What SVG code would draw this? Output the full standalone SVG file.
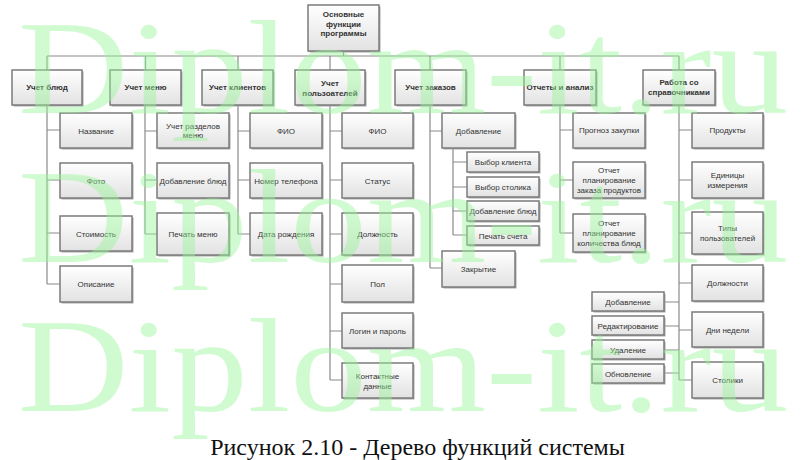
<svg xmlns="http://www.w3.org/2000/svg" width="802" height="460" viewBox="0 0 802 460">
<defs>
<linearGradient id="g" x1="0" y1="0" x2="0" y2="1">
<stop offset="0" stop-color="#ffffff"/>
<stop offset="1" stop-color="#e2e2e2"/>
</linearGradient>
<style>
.sh{fill:#a8a8a8}
.b{fill:url(#g);stroke:#7b7b7b;stroke-width:1.5}
.t{font-family:"Liberation Sans",Arial,sans-serif;font-size:8px;fill:#333333;text-anchor:middle}
.tb{font-weight:bold}
.c{stroke:#8a8a8a;stroke-width:1.2;fill:none}
.wm{font-family:"Liberation Serif","Times New Roman",serif;font-size:133px;fill:#99f599;opacity:0.45}
.cap{font-family:"Liberation Serif","Times New Roman",serif;font-size:24px;fill:#111111;text-anchor:middle}
</style>
</defs>
<rect width="802" height="460" fill="#ffffff"/>
<g id="connectors" class="c">
<path d="M343.5 51V56M47 56H679M47 56V70M145.5 56V70M238 56V70M330 56V70M430 56V70M560 56V70M679 56V70"/>
<path d="M47 105V284M47 130H60M47 180H60M47 233H60M47 284H60"/>
<path d="M145 105V234M145 131H157M145 180H157M145 234H157"/>
<path d="M238 105V234M238 131H250M238 180H250M238 234H250"/>
<path d="M330 105V380M330 131H342M330 180H342M330 234H342M330 284H342M330 331H342M330 380H342"/>
<path d="M430 105V268M430 131H442M430 268H442"/>
<path d="M453 148V235M453 162H467M453 187H467M453 211H467M453 235H467"/>
<path d="M560 105V233M560 130H573M560 180H573M560 233H573"/>
<path d="M679 105V380M679 130H692M679 180H692M679 233H692M679 283H692M679 330H692M679 380H692"/>
<path d="M664 302H679M664 326H679M664 350H679M664 373H679"/>
</g>
<g id="n-root"><rect class="sh" x="309.5" y="6.5" width="71" height="46"/><rect class="b" x="308" y="5" width="71" height="46"/><text class="t tb" x="343.5" y="17">Основные</text><text class="t tb" x="343.5" y="26.5">функции</text><text class="t tb" x="343.5" y="36">программы</text></g>
<g id="n-dishes"><rect class="sh" x="13.5" y="71.5" width="70" height="35"/><rect class="b" x="12" y="70" width="70" height="35"/><text class="t tb" x="47" y="90">Учет блюд</text></g>
<g id="n-menu"><rect class="sh" x="111.5" y="71.5" width="71" height="35"/><rect class="b" x="110" y="70" width="71" height="35"/><text class="t tb" x="145.5" y="90">Учет меню</text></g>
<g id="n-clients"><rect class="sh" x="203.5" y="71.5" width="71" height="35"/><rect class="b" x="202" y="70" width="71" height="35"/><text class="t tb" x="237.5" y="90">Учет клиентов</text></g>
<g id="n-users"><rect class="sh" x="296.5" y="71.5" width="70" height="35"/><rect class="b" x="295" y="70" width="70" height="35"/><text class="t tb" x="330" y="86">Учет</text><text class="t tb" x="330" y="96">пользоателей</text></g>
<g id="n-orders"><rect class="sh" x="396.5" y="71.5" width="71" height="35"/><rect class="b" x="395" y="70" width="71" height="35"/><text class="t tb" x="430.5" y="90">Учет заказов</text></g>
<g id="n-reports"><rect class="sh" x="525.5" y="71.5" width="72" height="35"/><rect class="b" x="524" y="70" width="72" height="35"/><text class="t tb" x="560" y="90">Отчеты и анализ</text></g>
<g id="n-refs"><rect class="sh" x="644.5" y="71.5" width="72" height="35"/><rect class="b" x="643" y="70" width="72" height="35"/><text class="t tb" x="679" y="85">Работа со</text><text class="t tb" x="679" y="94.5">справочниками</text></g>

<g id="n-d1"><rect class="sh" x="61.5" y="114.5" width="72" height="35"/><rect class="b" x="60" y="113" width="72" height="35"/><text class="t" x="96" y="133.5">Название</text></g>
<g id="n-d2"><rect class="sh" x="61.5" y="164.5" width="72" height="35"/><rect class="b" x="60" y="163" width="72" height="35"/><text class="t" x="96" y="183.5">Фото</text></g>
<g id="n-d3"><rect class="sh" x="61.5" y="217.5" width="72" height="35"/><rect class="b" x="60" y="216" width="72" height="35"/><text class="t" x="96" y="236.5">Стоимость</text></g>
<g id="n-d4"><rect class="sh" x="61.5" y="267.5" width="72" height="36"/><rect class="b" x="60" y="266" width="72" height="36"/><text class="t" x="96" y="287">Описание</text></g>

<g id="n-m1"><rect class="sh" x="158.5" y="114.5" width="72" height="35"/><rect class="b" x="157" y="113" width="72" height="35"/><text class="t" x="193" y="128.5">Учет разделов</text><text class="t" x="193" y="138">меню</text></g>
<g id="n-m2"><rect class="sh" x="158.5" y="164.5" width="72" height="35"/><rect class="b" x="157" y="163" width="72" height="35"/><text class="t" x="193" y="183.5">Добавление блюд</text></g>
<g id="n-m3"><rect class="sh" x="158.5" y="214.5" width="72" height="42"/><rect class="b" x="157" y="213" width="72" height="42"/><text class="t" x="193" y="237">Печать меню</text></g>

<g id="n-c1"><rect class="sh" x="251.5" y="114.5" width="72" height="35"/><rect class="b" x="250" y="113" width="72" height="35"/><text class="t" x="286" y="133.5">ФИО</text></g>
<g id="n-c2"><rect class="sh" x="251.5" y="164.5" width="72" height="35"/><rect class="b" x="250" y="163" width="72" height="35"/><text class="t" x="286" y="183.5">Номер телефона</text></g>
<g id="n-c3"><rect class="sh" x="251.5" y="214.5" width="72" height="42"/><rect class="b" x="250" y="213" width="72" height="42"/><text class="t" x="286" y="237">Дата рождения</text></g>

<g id="n-u1"><rect class="sh" x="343.5" y="114.5" width="71" height="35"/><rect class="b" x="342" y="113" width="71" height="35"/><text class="t" x="377.5" y="133.5">ФИО</text></g>
<g id="n-u2"><rect class="sh" x="343.5" y="164.5" width="71" height="35"/><rect class="b" x="342" y="163" width="71" height="35"/><text class="t" x="377.5" y="183.5">Статус</text></g>
<g id="n-u3"><rect class="sh" x="343.5" y="214.5" width="71" height="42"/><rect class="b" x="342" y="213" width="71" height="42"/><text class="t" x="377.5" y="237">Должность</text></g>
<g id="n-u4"><rect class="sh" x="343.5" y="266.5" width="71" height="37"/><rect class="b" x="342" y="265" width="71" height="37"/><text class="t" x="377.5" y="286.5">Пол</text></g>
<g id="n-u5"><rect class="sh" x="343.5" y="314.5" width="71" height="35"/><rect class="b" x="342" y="313" width="71" height="35"/><text class="t" x="377.5" y="333.5">Логин и пароль</text></g>
<g id="n-u6"><rect class="sh" x="343.5" y="364.5" width="71" height="35"/><rect class="b" x="342" y="363" width="71" height="35"/><text class="t" x="377.5" y="379">Контактные</text><text class="t" x="377.5" y="388.5">данные</text></g>

<g id="n-o1"><rect class="sh" x="443.5" y="114.5" width="73" height="35"/><rect class="b" x="442" y="113" width="73" height="35"/><text class="t" x="478.5" y="133.5">Добавление</text></g>
<g id="n-o11"><rect class="sh" x="468.5" y="153.5" width="72" height="20"/><rect class="b" x="467" y="152" width="72" height="20"/><text class="t" x="503" y="165">Выбор клиента</text></g>
<g id="n-o12"><rect class="sh" x="468.5" y="178.5" width="72" height="20"/><rect class="b" x="467" y="177" width="72" height="20"/><text class="t" x="503" y="190">Выбор столика</text></g>
<g id="n-o13"><rect class="sh" x="468.5" y="202.5" width="72" height="20"/><rect class="b" x="467" y="201" width="72" height="20"/><text class="t" x="503" y="214">Добавление блюд</text></g>
<g id="n-o14"><rect class="sh" x="468.5" y="227.5" width="72" height="19"/><rect class="b" x="467" y="226" width="72" height="19"/><text class="t" x="503" y="238.5">Печать счета</text></g>
<g id="n-o2"><rect class="sh" x="443.5" y="252.5" width="73" height="36"/><rect class="b" x="442" y="251" width="73" height="36"/><text class="t" x="478.5" y="271.5">Закрытие</text></g>

<g id="n-r1"><rect class="sh" x="574.5" y="114.5" width="72" height="35"/><rect class="b" x="573" y="113" width="72" height="35"/><text class="t" x="609" y="133">Прогноз закупки</text></g>
<g id="n-r2"><rect class="sh" x="574.5" y="163.5" width="72" height="36"/><rect class="b" x="573" y="162" width="72" height="36"/><text class="t" x="609" y="173">Отчет</text><text class="t" x="609" y="183">планирование</text><text class="t" x="609" y="193">заказа продуктов</text></g>
<g id="n-r3"><rect class="sh" x="574.5" y="215.5" width="72" height="38"/><rect class="b" x="573" y="214" width="72" height="38"/><text class="t" x="609" y="226">Отчет</text><text class="t" x="609" y="236">планирование</text><text class="t" x="609" y="246">количества блюд</text></g>

<g id="n-s1"><rect class="sh" x="693.5" y="114.5" width="71" height="35"/><rect class="b" x="692" y="113" width="71" height="35"/><text class="t" x="727.5" y="133">Продукты</text></g>
<g id="n-s2"><rect class="sh" x="693.5" y="163.5" width="71" height="36"/><rect class="b" x="692" y="162" width="71" height="36"/><text class="t" x="727.5" y="178">Единицы</text><text class="t" x="727.5" y="187.5">измерения</text></g>
<g id="n-s3"><rect class="sh" x="693.5" y="213.5" width="71" height="42"/><rect class="b" x="692" y="212" width="71" height="42"/><text class="t" x="727.5" y="231">Типы</text><text class="t" x="727.5" y="240.5">пользователей</text></g>
<g id="n-s4"><rect class="sh" x="693.5" y="266.5" width="71" height="36"/><rect class="b" x="692" y="265" width="71" height="36"/><text class="t" x="727.5" y="286">Должности</text></g>
<g id="n-s5"><rect class="sh" x="693.5" y="313.5" width="71" height="35"/><rect class="b" x="692" y="312" width="71" height="35"/><text class="t" x="727.5" y="332.5">Дни недели</text></g>
<g id="n-s6"><rect class="sh" x="693.5" y="363.5" width="71" height="36"/><rect class="b" x="692" y="362" width="71" height="36"/><text class="t" x="727.5" y="383">Столики</text></g>

<g id="n-a1"><rect class="sh" x="593.5" y="293.5" width="72" height="19"/><rect class="b" x="592" y="292" width="72" height="19"/><text class="t" x="628" y="304.5">Добавление</text></g>
<g id="n-a2"><rect class="sh" x="593.5" y="317.5" width="72" height="19"/><rect class="b" x="592" y="316" width="72" height="19"/><text class="t" x="628" y="328.5">Редактирование</text></g>
<g id="n-a3"><rect class="sh" x="593.5" y="341.5" width="72" height="19"/><rect class="b" x="592" y="340" width="72" height="19"/><text class="t" x="628" y="352.5">Удаление</text></g>
<g id="n-a4"><rect class="sh" x="593.5" y="365.5" width="72" height="19"/><rect class="b" x="592" y="364" width="72" height="19"/><text class="t" x="628" y="376.5">Обновление</text></g>

<g id="watermark">
<text class="wm" x="18" y="113" textLength="770" lengthAdjust="spacingAndGlyphs">Diplom-it.ru</text>
<text class="wm" x="18" y="262" textLength="770" lengthAdjust="spacingAndGlyphs">Diplom-it.ru</text>
<text class="wm" x="18" y="411" textLength="770" lengthAdjust="spacingAndGlyphs">Diplom-it.ru</text>
</g>
<text class="cap" x="417.5" y="455">Рисунок 2.10 - Дерево функций системы</text>
</svg>
